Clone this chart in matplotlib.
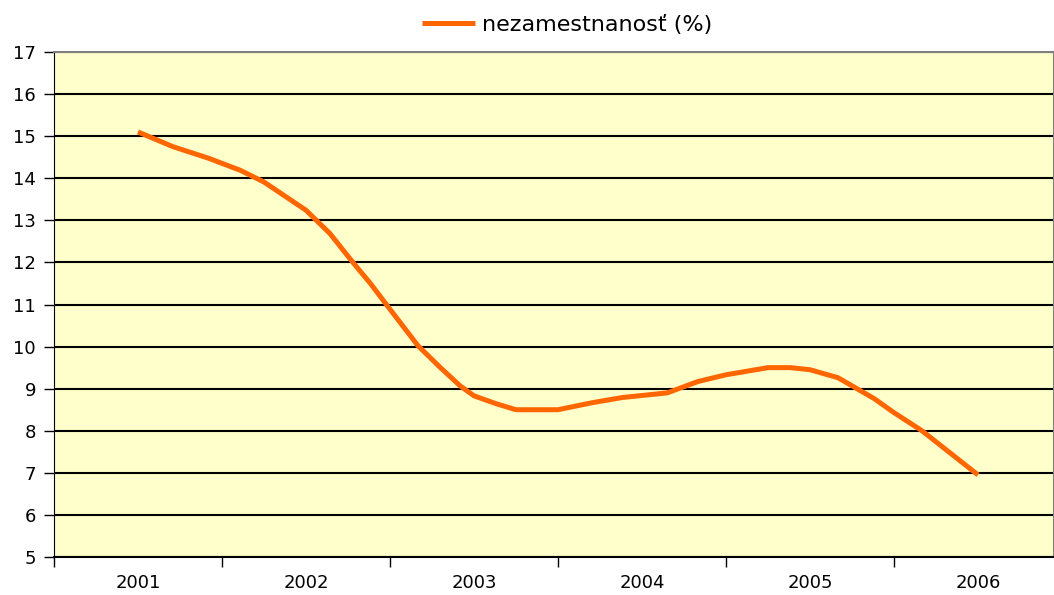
import matplotlib
matplotlib.use("Agg")
import matplotlib.pyplot as plt
from matplotlib.ticker import FixedLocator

# months elapsed since the 2001 point, with unemployment rate
months = [0, 2.5, 5, 7.3, 9, 12, 13.7, 15.4, 16.6, 17.9, 20, 21.6, 23, 24, 25.6,
          27, 30, 32.5, 34.6, 37.8, 40, 42, 45, 46.6, 48, 50, 52.6, 54, 56, 60]
rate = [15.1, 14.75, 14.48, 14.19, 13.91, 13.24, 12.69, 11.98, 11.5, 10.93, 10.02,
        9.5, 9.07, 8.83, 8.64, 8.5, 8.5, 8.67, 8.79, 8.9, 9.17, 9.33, 9.5, 9.5,
        9.45, 9.26, 8.76, 8.43, 8.0, 6.95]
years = [2001, 2002, 2003, 2004, 2005, 2006]
label = 'nezamestnanosť (%)'

x = [years[0] + m / 12 for m in months]

fig = plt.figure(figsize=(10.54, 5.95), dpi=100)
ax = fig.add_axes([54 / 1054, 1 - 557 / 595, 1 - 54 / 1054, (557 - 52) / 595])
ax.set_facecolor('#FFFFCC')

ax.plot(x, rate, color='#FF6600', lw=3.6, label=label, solid_capstyle='butt', zorder=3)

ax.set_ylim(5, 17)
ax.set_yticks(range(5, 18))
ax.yaxis.grid(True, color='black', lw=1.5, zorder=1)
ax.set_axisbelow(True)

ax.set_xlim(years[0] - 0.5, years[0] + (1054 - 138) / 168)
# tick marks between years, labels at year centres
ax.xaxis.set_major_locator(FixedLocator([y - 0.5 for y in years]))
ax.set_xticklabels([])
ax.xaxis.set_minor_locator(FixedLocator(years))
ax.set_xticklabels([str(y) for y in years], minor=True)
ax.tick_params(axis='x', which='minor', length=0, pad=12, labelsize=13)
ax.tick_params(axis='x', which='major', length=7, width=1, direction='out')
ax.tick_params(axis='y', length=7, width=1, labelsize=13, pad=6)

for s in ['top', 'right']:
    ax.spines[s].set_color('#808080')
    ax.spines[s].set_linewidth(1.5)
ax.spines['left'].set_color('black')
ax.spines['bottom'].set_color('black')
ax.spines['bottom'].set_linewidth(1.5)

fig.legend(loc='center', bbox_to_anchor=(0.538, 1 - 25 / 595), frameon=False,
           fontsize=16, handlelength=2.4, handletextpad=0.3)

fig.savefig('out.png', dpi=100)
